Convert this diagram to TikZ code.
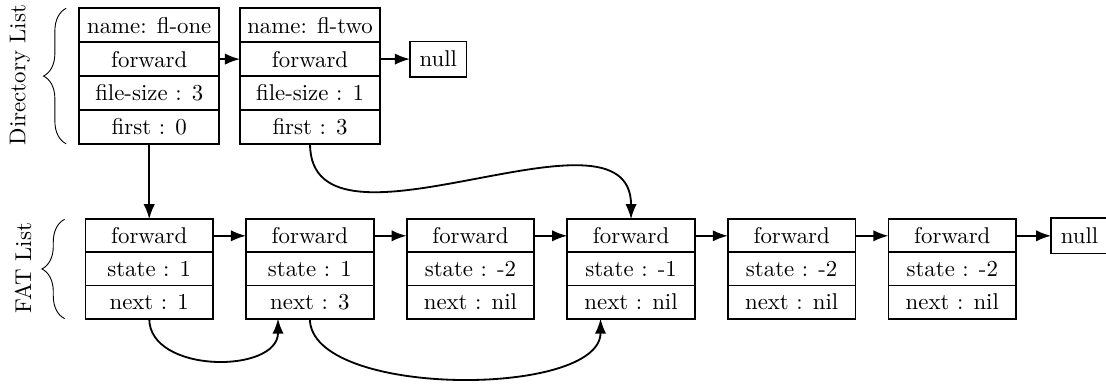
\documentclass[tikz,border=0pt]{standalone}
\usepackage{tikz}
\usetikzlibrary{arrows.meta,positioning,calc,decorations.pathreplacing}

\begin{document}
\begin{tikzpicture}[>=Latex,
 drow/.style={draw,thick,minimum width=2.156cm,minimum height=0.522cm,inner sep=0pt,outer sep=0pt},
 frow/.style={draw,thick,minimum width=1.965cm,minimum height=0.51cm,inner sep=0pt,outer sep=0pt},
 nullbox/.style={draw,thick,inner sep=4.2pt,outer sep=0pt},
 link/.style={->,thick},
 brc/.style={decorate,decoration={brace,amplitude=0.35cm}}]
\useasboundingbox (0,0) rectangle (17.03,5.898);
% directory list
\node[drow] (d1a) at (2.298,5.510) {name: fl-one};
\node[drow,below=0cm of d1a] (d1b) {forward};
\node[drow,below=0cm of d1b] (d1c) {file-size : 3};
\node[drow,below=0cm of d1c] (d1d) {first : 0};
\node[drow] (d2a) at (4.774,5.510) {name: fl-two};
\node[drow,below=0cm of d2a] (d2b) {forward};
\node[drow,below=0cm of d2b] (d2c) {file-size : 1};
\node[drow,below=0cm of d2c] (d2d) {first : 3};
\node[nullbox,right=0.46cm of d2b] (dnull) {null};
\draw[link] (d1b.east) -- (d2b.west);
\draw[link] (d2b.east) -- (dnull.west);
% FAT list
\foreach \i/\st/\nx in {1/1/1,2/1/3,3/-2/nil,4/-1/nil,5/-2/nil,6/-2/nil} {
  \node[frow] (f\i) at ({2.298+2.473*(\i-1)},2.267) {forward};
  \node[frow,below=0cm of f\i] (s\i) {state : \st};
  \node[frow,below=0cm of s\i] (n\i) {next : \nx};
}
\node[nullbox,right=0.54cm of f6] (fnull) {null};
\foreach \i in {1,...,5} {
  \pgfmathtruncatemacro{\j}{\i+1}
  \draw[link] (f\i.east) -- (f\j.west);
}
\draw[link] (f6.east) -- (fnull.west);
% pointers
\draw[link] (d1d.south) -- (f1.north);
\draw[link] (d2d.south) to[out=-90,in=90] (f4.north);
\draw[link] (n1.south) to[out=-90,in=-90,looseness=1.1] ([xshift=-0.49cm]n2.south);
\draw[link] (n2.south) to[out=-90,in=-90,looseness=0.7] ([xshift=-0.47cm]n4.south);
% braces and labels
\draw[brc] ([xshift=-0.2cm]d1d.south west) -- ([xshift=-0.2cm]d1a.north west);
\draw[brc] ([xshift=-0.32cm]n1.south west) -- ([xshift=-0.32cm]f1.north west);
\node[rotate=90] (dirlbl) at (0.308,4.743) {Directory List};
\node[rotate=90] (fatlbl) at (0.354,1.771) {FAT List};
\end{tikzpicture}
\end{document}
